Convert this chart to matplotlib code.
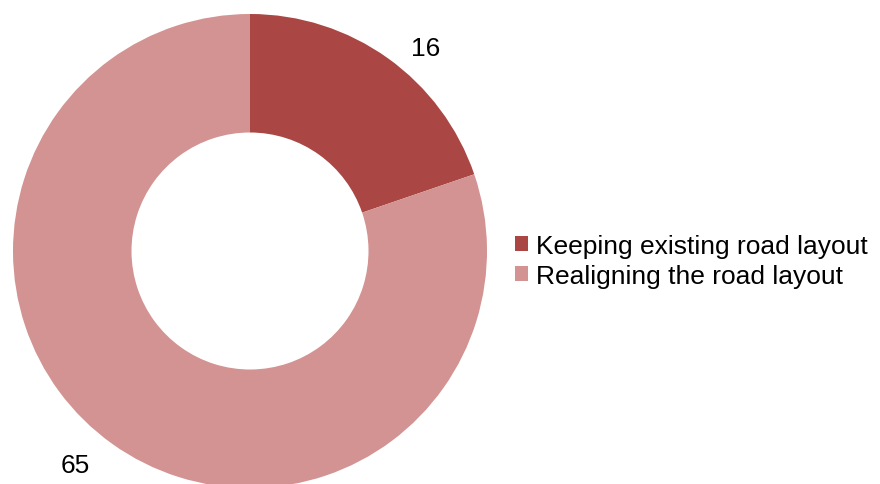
import matplotlib.pyplot as plt
from matplotlib.patches import Patch

# ======================== DATA ========================
categories = ['Keeping existing road layout', 'Realigning the road layout']
values = [16, 65]
colors = ['#AA4643', '#D29392']
# label anchor points, in units of the outer radius
label_pos = [(0.739, 0.857), (-0.739, -0.903)]

plt.rcParams['font.family'] = ['Liberation Sans', 'DejaVu Sans']

fig = plt.figure(figsize=(8.8, 4.85), dpi=100)

# donut centred at about (250, 252) px, outer radius ~237 px
R = 237
ax = fig.add_axes([(250 - R) / 880, (233 - R) / 485, 2 * R / 880, 2 * R / 485])
ax.pie(values, colors=colors, startangle=90, counterclock=False,
       radius=1.0, wedgeprops={'width': 0.5, 'edgecolor': 'none'})
for v, (x, y) in zip(values, label_pos):
    ax.text(x, y, str(v), ha='center', va='center', fontsize=19, color='black')
ax.set_xlim(-1, 1)
ax.set_ylim(-1, 1)
ax.set_aspect('equal')
ax.axis('off')

handles = [Patch(facecolor=c, edgecolor='none') for c in colors]
fig.legend(handles, categories, loc='center left',
           bbox_to_anchor=(515 / 880, 1 - 262 / 485),
           frameon=False, fontsize=19, handlelength=0.5, handleheight=0.5,
           handletextpad=0.3, labelspacing=0.22, borderaxespad=0, borderpad=0)

plt.savefig('out.png', dpi=100)
